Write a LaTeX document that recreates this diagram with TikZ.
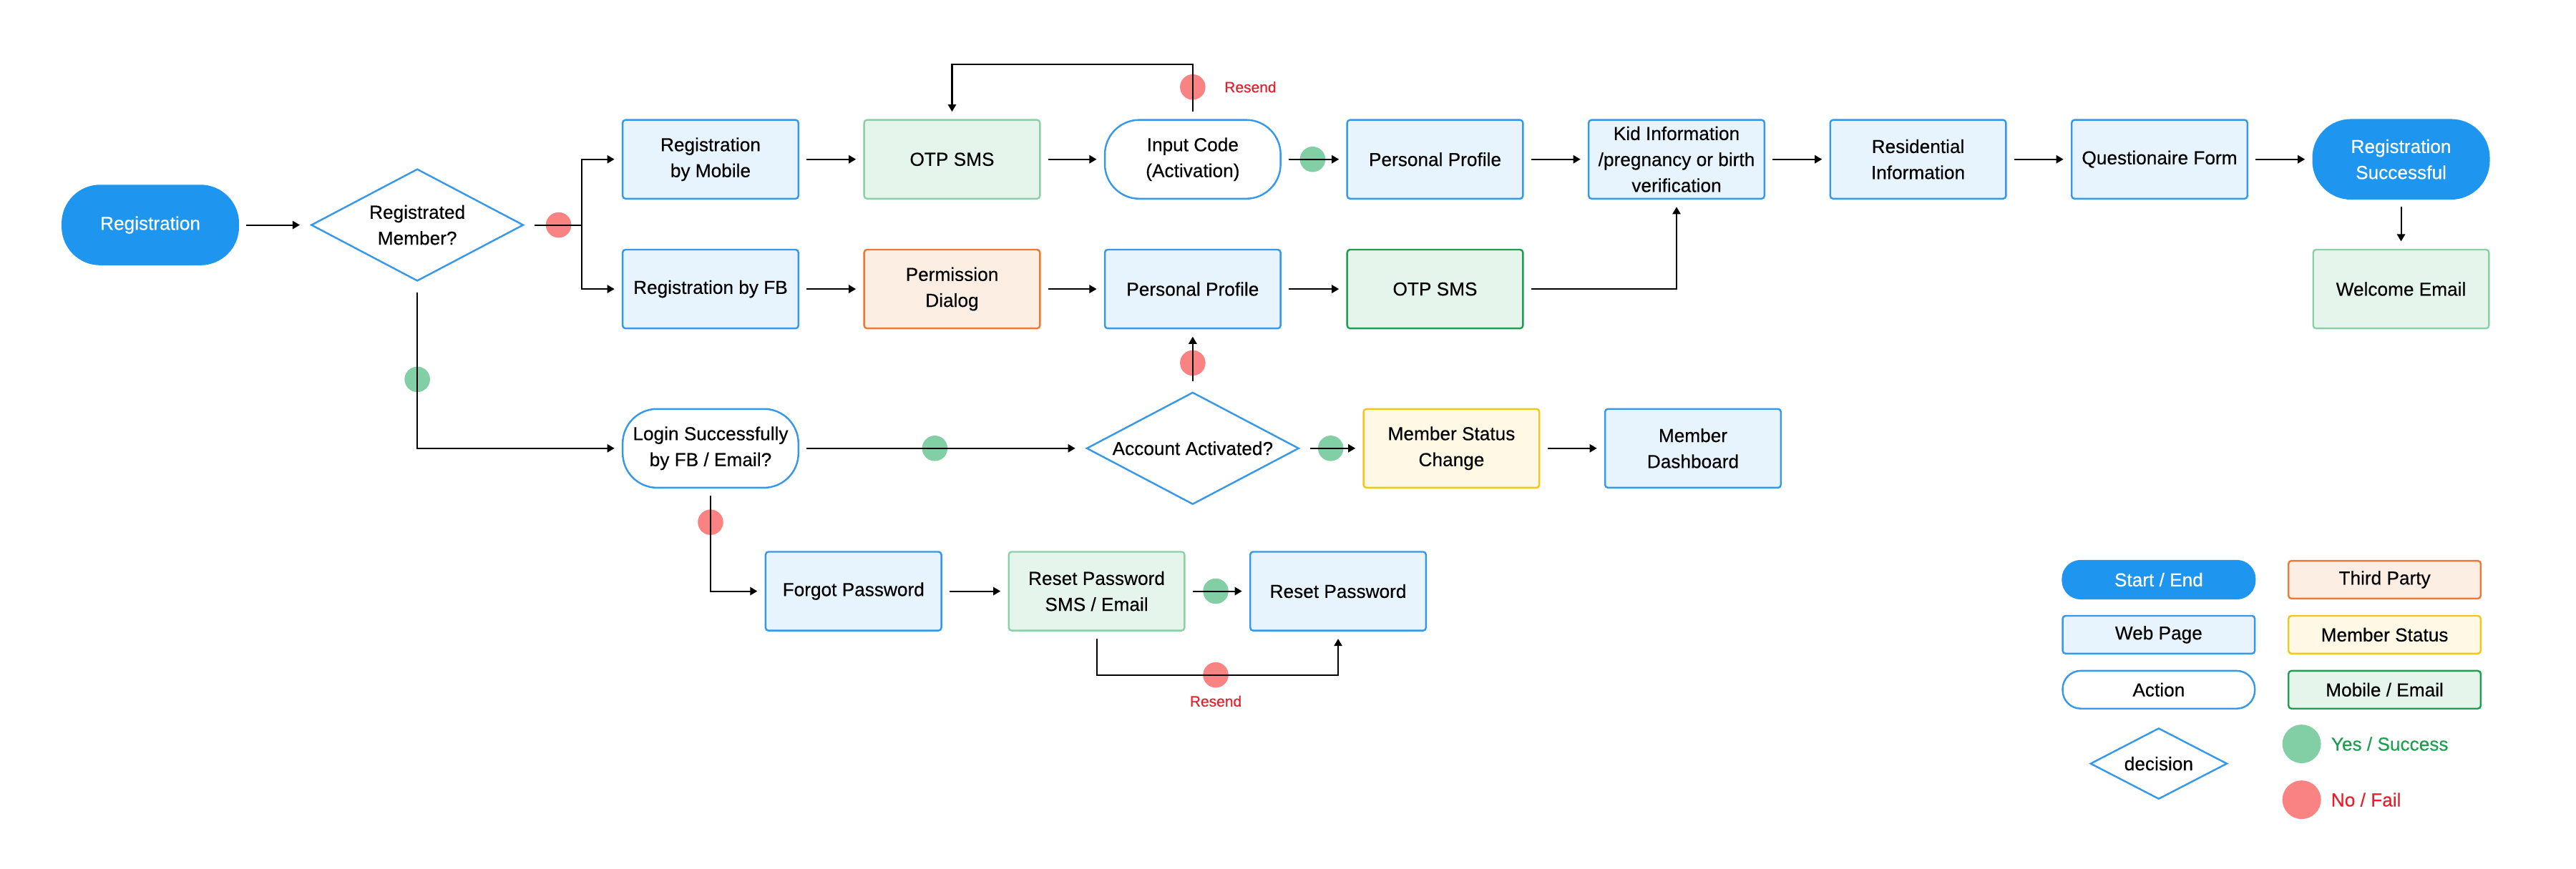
\documentclass[tikz,border=0pt]{standalone}
\usepackage{fontspec}
\setmainfont{Liberation Sans}[FakeBold=0.35]
\usepackage{xcolor}
\usetikzlibrary{positioning, calc, arrows.meta, shapes.geometric}

\definecolor{startblue}{HTML}{1E96F0}
\definecolor{webline}{HTML}{3598E8}
\definecolor{webfill}{HTML}{E7F3FD}
\definecolor{mailline}{HTML}{8CD0A8}
\definecolor{maillinedark}{HTML}{1E9E50}
\definecolor{mailfill}{HTML}{E5F5EC}
\definecolor{partyline}{HTML}{EC7A35}
\definecolor{partyfill}{HTML}{FDEEE3}
\definecolor{statusline}{HTML}{F5C518}
\definecolor{statusfill}{HTML}{FFF8E5}
\definecolor{yesgreen}{HTML}{82CFA6}
\definecolor{nored}{HTML}{F98383}
\definecolor{yestext}{HTML}{1E9E4F}
\definecolor{notext}{HTML}{E6202A}

\begin{document}
\begin{tikzpicture}[x=0.02cm, y=-0.02cm,
    boxbase/.style={draw, line width=0.6pt, minimum width=2.14cm, minimum height=0.96cm,
        align=center, inner sep=1pt, outer sep=0.1cm, rounded corners=1pt,
        font=\fontsize{6.5}{9}\selectfont},
    startbox/.style={boxbase, fill=startblue, draw=startblue, text=white, rounded corners=0.46cm},
    webbox/.style={boxbase, fill=webfill, draw=webline},
    actionbox/.style={boxbase, fill=white, draw=webline, rounded corners=0.42cm},
    mailbox/.style={boxbase, fill=mailfill, draw=mailline},
    mailboxdark/.style={boxbase, fill=mailfill, draw=maillinedark},
    partybox/.style={boxbase, fill=partyfill, draw=partyline},
    statusbox/.style={boxbase, fill=statusfill, draw=statusline},
    decisionbox/.style={diamond, draw=webline, fill=white, line width=0.6pt, aspect=1.85,
        inner sep=0pt, outer sep=0.1cm, minimum width=2.66cm, minimum height=1.44cm,
        align=center, font=\fontsize{6.5}{9}\selectfont},
    keybox/.style={minimum width=2.34cm, minimum height=0.46cm},
    yesdot/.style={circle, fill=yesgreen, minimum size=0.31cm, inner sep=0pt},
    nodot/.style={circle, fill=nored, minimum size=0.31cm, inner sep=0pt},
    conn/.style={-{Triangle[length=2.5pt, width=2.8pt]}, line width=0.5pt},
    resendtxt/.style={text=notext, font=\fontsize{5.2}{6}\selectfont, inner sep=0pt},
    keytxt/.style={inner sep=0pt, font=\fontsize{6.5}{9}\selectfont}
]
    \useasboundingbox (0,0) rectangle (1568,529);

    % --- Start and first decision ---
    \node[startbox] (start) at (91.5,137) {Registration};
    \node[decisionbox] (regq) at (254,137) {Registrated\\Member?};
    \coordinate (split) at (354,137);

    % --- Top row: registration by mobile ---
    \node[webbox] (regmob) at (432.5,97) {Registration\\by Mobile};
    \node[mailbox] (otpmob) at (579.5,97) {OTP SMS};
    \node[actionbox] (inputcode) at (726,97) {Input Code\\(Activation)};
    \node[webbox] (profmob) at (873.5,97) {Personal Profile};
    \node[webbox] (kidinfo) at (1020.5,97) {Kid Information\\/pregnancy or birth\\verification};
    \node[webbox] (resinfo) at (1167.5,97) {Residential\\Information};
    \node[webbox] (quest) at (1314.5,97) {Questionaire Form};
    \node[startbox] (success) at (1461.5,97) {Registration\\Successful};
    \node[mailbox] (welcome) at (1461.5,176) {Welcome Email};

    % --- Second row: registration by FB ---
    \node[webbox] (regfb) at (432.5,176) {Registration by FB};
    \node[partybox] (perm) at (579.5,176) {Permission\\Dialog};
    \node[webbox] (proffb) at (726,176) {Personal Profile};
    \node[mailboxdark] (otpfb) at (873.5,176) {OTP SMS};

    % --- Third row: login ---
    \node[actionbox] (login) at (432.5,273) {Login Successfully\\by FB / Email?};
    \node[decisionbox] (activated) at (726,273) {Account Activated?};
    \node[statusbox] (mstatus) at (883.5,273) {Member Status\\Change};
    \node[webbox] (dashboard) at (1030.5,273) {Member\\Dashboard};

    % --- Fourth row: password reset ---
    \node[webbox] (forgot) at (519.5,360) {Forgot Password};
    \node[mailbox] (resetsms) at (667.5,360) {Reset Password\\SMS / Email};
    \node[webbox] (resetpw) at (814.5,360) {Reset Password};

    % --- Yes / no markers ---
    \node[nodot] (no1) at (340,137) {};
    \node[yesdot] (yes1) at (254,231) {};
    \node[nodot] (no2) at (726,53) {};
    \node[yesdot] (yes2) at (799,97) {};
    \node[nodot] (no3) at (726,221) {};
    \node[yesdot] (yes3) at (569,273) {};
    \node[yesdot] (yes4) at (810,273) {};
    \node[nodot] (no4) at (432.5,318) {};
    \node[yesdot] (yes5) at (740,360) {};
    \node[nodot] (no5) at (740,411) {};
    \node[resendtxt, anchor=west] (resend1) at (745,53) {Resend};
    \node[resendtxt] (resend2) at (740,427) {Resend};

    % --- Connectors ---
    \draw[conn] (start) -- (regq);
    \draw[line width=0.5pt] (regq) -- (no1.center) -- (split);
    \draw[conn] (split) |- (regmob.west);
    \draw[conn] (split) |- (regfb.west);

    \draw[conn] (regmob) -- (otpmob);
    \draw[conn] (otpmob) -- (inputcode);
    \draw[conn] (inputcode) -- (yes2.center) -- (profmob);
    \draw[conn] (inputcode.north) -- (no2.center) -- ++(0,-14) -| (otpmob.north);
    \draw[conn] (profmob) -- (kidinfo);
    \draw[conn] (kidinfo) -- (resinfo);
    \draw[conn] (resinfo) -- (quest);
    \draw[conn] (quest) -- (success);
    \draw[conn] (success) -- (welcome);

    \draw[conn] (regfb) -- (perm);
    \draw[conn] (perm) -- (proffb);
    \draw[conn] (proffb) -- (otpfb);
    \draw[conn] (otpfb.east) -| (kidinfo.south);

    \draw[conn] (regq.south) -- (yes1.center) |- (login.west);
    \draw[conn] (login) -- (yes3.center) -- (activated);
    \draw[conn] (activated) -- (no3.center) -- (proffb);
    \draw[conn] (activated) -- (yes4.center) -- (mstatus);
    \draw[conn] (mstatus) -- (dashboard);

    \draw[conn] (login.south) -- (no4.center) |- (forgot.west);
    \draw[conn] (forgot) -- (resetsms);
    \draw[conn] (resetsms) -- (yes5.center) -- (resetpw);
    \draw[conn] (resetsms.south) |- (no5.center) -| (resetpw.south);

    % --- Legend ---
    \node[startbox, keybox, rounded corners=0.22cm] (keystart) at (1314,353) {Start / End};
    \node[partybox, keybox] (keyparty) at (1451.5,353) {Third Party};
    \node[webbox, keybox] (keyweb) at (1314,386.5) {Web Page};
    \node[statusbox, keybox] (keystatus) at (1451.5,386.5) {Member Status};
    \node[actionbox, keybox, rounded corners=0.22cm] (keyaction) at (1314,420) {Action};
    \node[mailboxdark, keybox] (keymail) at (1451.5,420) {Mobile / Email};
    \node[decisionbox, minimum width=1.74cm, minimum height=0.94cm] (keydecision) at (1314,465) {decision};
    \node[yesdot, minimum size=0.47cm] (keyyes) at (1401,453) {};
    \node[nodot, minimum size=0.47cm] (keyno) at (1401,487) {};
    \node[keytxt, text=yestext, right=0.11cm of keyyes] (keyyestxt) {Yes / Success};
    \node[keytxt, text=notext, right=0.11cm of keyno] (keynotxt) {No / Fail};

\end{tikzpicture}
\end{document}
